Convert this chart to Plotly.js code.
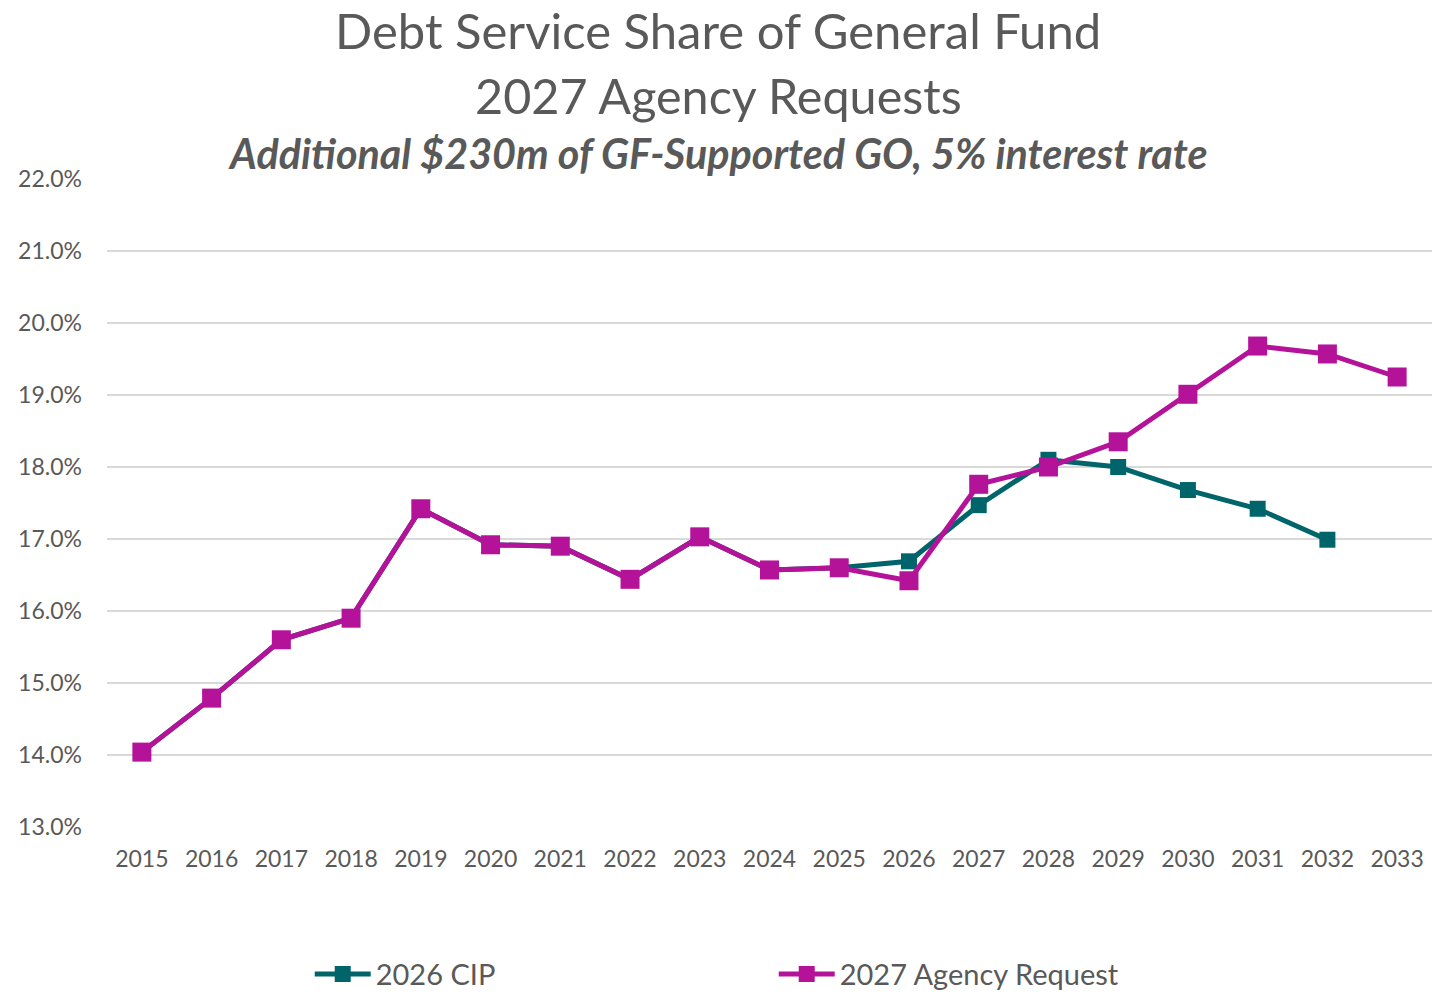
<!DOCTYPE html>
<html>
<head>
<meta charset="utf-8">
<script src="https://cdn.plot.ly/plotly-3.0.1.min.js"></script>
<style>html,body{margin:0;padding:0;background:#fff;}#chart{width:1447px;height:998px;}</style>
</head>
<body>
<div id="chart"></div>
<script>
const years = ["2015","2016","2017","2018","2019","2020","2021","2022","2023","2024","2025","2026","2027","2028","2029","2030","2031","2032","2033"];
const cip2026 = [14.04,14.79,15.60,15.90,17.42,16.92,16.90,16.44,17.03,16.57,16.60,16.69,17.47,18.10,18.00,17.68,17.42,16.99,null];
const agency2027 = [14.04,14.79,15.60,15.90,17.42,16.92,16.90,16.44,17.03,16.57,16.60,16.42,17.76,18.00,18.35,19.01,19.68,19.57,19.25];
const yTicks = [13,14,15,16,17,18,19,20,21,22];
const yTickLabels = yTicks.map(v => v.toFixed(1) + "%");
const titleLines = ["Debt Service Share of General Fund", "2027 Agency Requests", "Additional $230m of GF-Supported GO, 5% interest rate"];

const font = "Lato, 'Open Sans', sans-serif";
const gray = "#595959";

const traces = [
  {x: years, y: cip2026, name: "2026 CIP", type: "scatter", mode: "lines+markers",
   line: {color: "#00656B", width: 5}, marker: {symbol: "square", size: 16, color: "#00656B"}},
  {x: years, y: agency2027, name: "2027 Agency Request", type: "scatter", mode: "lines+markers",
   line: {color: "#B5129A", width: 5}, marker: {symbol: "square", size: 19, color: "#B5129A"}}
];

const layout = {
  width: 1447, height: 998,
  margin: {l: 107, r: 15, t: 179, b: 171, autoexpand: false},
  paper_bgcolor: "#fff", plot_bgcolor: "#fff",
  font: {family: font, color: gray, size: 20},
  annotations: [
    {text: titleLines[0], xref: "paper", yref: "paper", x: 0.4615, y: 1.2299, xanchor: "center", yanchor: "middle", showarrow: false, font: {family: font, size: 49, color: gray}},
    {text: titleLines[1], xref: "paper", yref: "paper", x: 0.4615, y: 1.1296, xanchor: "center", yanchor: "middle", showarrow: false, font: {family: font, size: 48.5, color: gray}},
    {text: "<b><i>" + titleLines[2] + "</i></b>", xref: "paper", yref: "paper", x: 0.4615, y: 1.0401, xanchor: "center", yanchor: "middle", showarrow: false, font: {family: font, size: 41.3, color: gray}}
  ],
  xaxis: {
    type: "category", tickvals: years, ticktext: years, range: [-0.5, 18.5],
    showgrid: false, zeroline: false, showline: false, ticks: "",
    ticklabelstandoff: 16,
    tickfont: {family: font, size: 23, color: gray}, fixedrange: true
  },
  yaxis: {
    range: [13, 22], tickvals: yTicks, ticktext: yTickLabels,
    showgrid: true, gridcolor: "#d9d9d9", gridwidth: 2,
    zeroline: false, showline: false, ticks: "",
    ticklabelstandoff: 24,
    tickfont: {family: font, size: 23, color: gray}, fixedrange: true
  },
  showlegend: true,
  legend: {
    orientation: "h", x: 0.153, xanchor: "left", y: -0.2269, yanchor: "middle",
    entrywidth: 393, entrywidthmode: "pixels", itemwidth: 56,
    font: {family: font, size: 29, color: gray}, bgcolor: "rgba(0,0,0,0)"
  }
};

Plotly.newPlot("chart", traces, layout, {displayModeBar: false, staticPlot: true});
</script>
</body>
</html>
